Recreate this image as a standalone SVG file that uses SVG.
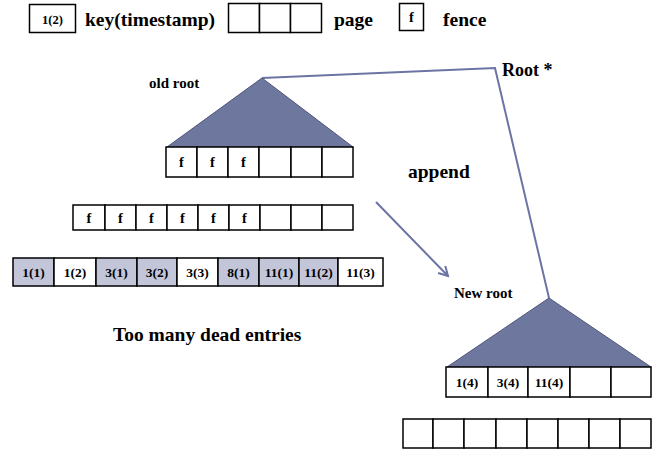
<svg xmlns="http://www.w3.org/2000/svg" width="660" height="450" viewBox="0 0 660 450" font-family="'Liberation Serif', 'Times New Roman', serif" font-weight="bold">
  <defs>
    <style>
      text { font-family: 'Liberation Serif', 'Times New Roman', serif; font-weight: bold; fill: #000; }
      .cell { fill: #fff; stroke: #000; stroke-width: 1.5; }
      .dead { fill: #c3c6d9; stroke: #000; stroke-width: 1.5; }
      .tree { fill: #6e789f; stroke: #4f577a; stroke-width: 1; }
      .link { fill: none; stroke: #6b74a3; stroke-width: 2; }
      .k { font-size: 13.5px; text-anchor: middle; }
      .f { font-size: 14.5px; text-anchor: middle; }
      .big { font-size: 19.5px; }
      .lbl { font-size: 15px; }
    </style>
    <marker id="open-arrow" viewBox="0 0 12 12" refX="10" refY="6" markerWidth="12" markerHeight="12" markerUnits="userSpaceOnUse" orient="auto">
      <path d="M1,1 L10,6 L1,11" fill="none" stroke="#6b74a3" stroke-width="2"/>
    </marker>
  </defs>

  <!-- legend -->
  <g id="legend">
    <rect class="cell" x="29.5" y="4.5" width="46" height="28"/>
    <text class="k" x="52.5" y="23.5" style="font-size:12.5px">1(2)</text>
    <text class="big" x="85" y="26">key(timestamp)</text>
    <rect class="cell" x="228.5" y="3.5" width="31" height="29"/>
    <rect class="cell" x="259.5" y="3.5" width="31" height="29"/>
    <rect class="cell" x="290.5" y="3.5" width="31" height="29"/>
    <text class="big" x="334" y="26">page</text>
    <rect class="cell" x="399.5" y="3.5" width="24" height="27"/>
    <text class="f" x="411.5" y="22">f</text>
    <text class="big" x="443" y="26">fence</text>
  </g>

  <!-- connectors -->
  <g id="connectors">
    <polyline class="link" points="262,78 495,68 549,298"/>
    <line class="link" x1="376" y1="202" x2="448" y2="276" marker-end="url(#open-arrow)"/>
  </g>

  <!-- old root subtree -->
  <g id="old-root">
    <text class="lbl" x="149" y="88">old root</text>
    <polygon class="tree" points="262,78 167,147 353,147"/>
    <rect class="cell" x="166" y="147" width="31" height="30"/>
    <rect class="cell" x="197" y="147" width="31" height="30"/>
    <rect class="cell" x="228" y="147" width="31" height="30"/>
    <rect class="cell" x="259" y="147" width="32" height="30"/>
    <rect class="cell" x="291" y="147" width="31" height="30"/>
    <rect class="cell" x="322" y="147" width="31" height="30"/>
    <text class="f" x="181.5" y="167">f</text>
    <text class="f" x="212.5" y="167">f</text>
    <text class="f" x="243.5" y="167">f</text>
  </g>

  <!-- fence page -->
  <g id="fence-page">
    <rect class="cell" x="73" y="205" width="32" height="25"/>
    <rect class="cell" x="105" y="205" width="31" height="25"/>
    <rect class="cell" x="136" y="205" width="31" height="25"/>
    <rect class="cell" x="167" y="205" width="31" height="25"/>
    <rect class="cell" x="198" y="205" width="31" height="25"/>
    <rect class="cell" x="229" y="205" width="31" height="25"/>
    <rect class="cell" x="260" y="205" width="31" height="25"/>
    <rect class="cell" x="291" y="205" width="31" height="25"/>
    <rect class="cell" x="322" y="205" width="31" height="25"/>
    <text class="f" x="89" y="222.5">f</text>
    <text class="f" x="120.5" y="222.5">f</text>
    <text class="f" x="151.5" y="222.5">f</text>
    <text class="f" x="182.5" y="222.5">f</text>
    <text class="f" x="213.5" y="222.5">f</text>
    <text class="f" x="244.5" y="222.5">f</text>
  </g>

  <!-- key page with dead entries -->
  <g id="key-page">
    <rect class="dead" x="13" y="258" width="41" height="28"/>
    <rect class="cell" x="54" y="258" width="42" height="28"/>
    <rect class="dead" x="96" y="258" width="41" height="28"/>
    <rect class="dead" x="137" y="258" width="40" height="28"/>
    <rect class="cell" x="177" y="258" width="41" height="28"/>
    <rect class="dead" x="218" y="258" width="41" height="28"/>
    <rect class="dead" x="259" y="258" width="40" height="28"/>
    <rect class="dead" x="299" y="258" width="39" height="28"/>
    <rect class="cell" x="338" y="258" width="45" height="28"/>
    <text class="k" x="33.5" y="276.5">1(1)</text>
    <text class="k" x="75" y="276.5">1(2)</text>
    <text class="k" x="116.5" y="276.5">3(1)</text>
    <text class="k" x="157" y="276.5">3(2)</text>
    <text class="k" x="197.5" y="276.5">3(3)</text>
    <text class="k" x="238.5" y="276.5">8(1)</text>
    <text class="k" x="279" y="276.5">11(1)</text>
    <text class="k" x="318.5" y="276.5">11(2)</text>
    <text class="k" x="360.5" y="276.5">11(3)</text>
  </g>

  <text class="big" x="113" y="341">Too many dead entries</text>
  <text class="big" x="408" y="178">append</text>
  <text x="502" y="76" style="font-size:18px">Root *</text>

  <!-- new root subtree -->
  <g id="new-root">
    <text class="lbl" x="454" y="298">New root</text>
    <polygon class="tree" points="549,298 447,367 651,367"/>
    <rect class="cell" x="446" y="367" width="42" height="30"/>
    <rect class="cell" x="488" y="367" width="40" height="30"/>
    <rect class="cell" x="528" y="367" width="42" height="30"/>
    <rect class="cell" x="570" y="367" width="41" height="30"/>
    <rect class="cell" x="611" y="367" width="40" height="30"/>
    <text class="k" x="467" y="386.5">1(4)</text>
    <text class="k" x="508" y="386.5">3(4)</text>
    <text class="k" x="549" y="386.5">11(4)</text>
  </g>

  <!-- new empty page -->
  <g id="new-page">
    <rect class="cell" x="403" y="419" width="30" height="29"/>
    <rect class="cell" x="433" y="419" width="31" height="29"/>
    <rect class="cell" x="464" y="419" width="32" height="29"/>
    <rect class="cell" x="496" y="419" width="31" height="29"/>
    <rect class="cell" x="527" y="419" width="31" height="29"/>
    <rect class="cell" x="558" y="419" width="31" height="29"/>
    <rect class="cell" x="589" y="419" width="31" height="29"/>
    <rect class="cell" x="620" y="419" width="31" height="29"/>
  </g>
</svg>
